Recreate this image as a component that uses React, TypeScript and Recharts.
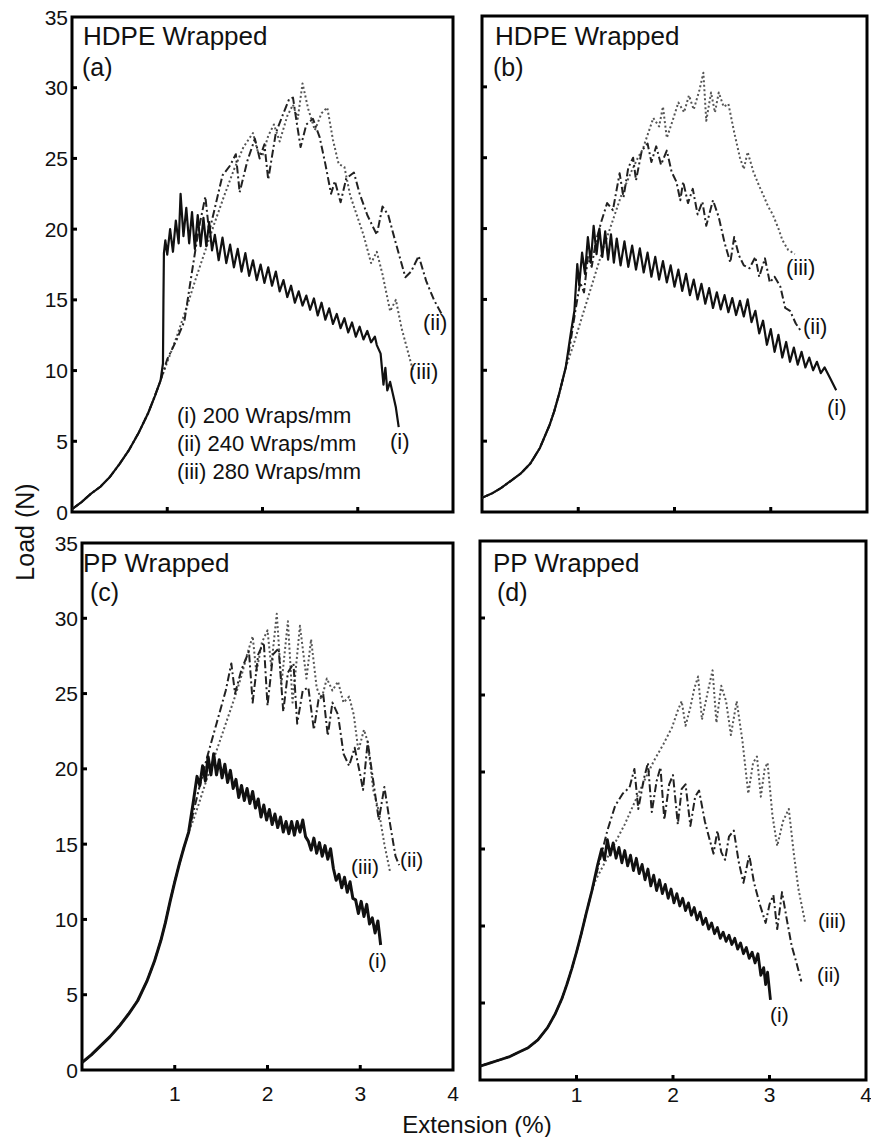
import React from 'react';
import { LineChart, Line, XAxis, YAxis, ReferenceArea } from 'recharts';

type Pt = [number, number];

// ---------- axis ticks ----------
const yTicks = [0, 5, 10, 15, 20, 25, 30, 35];
const xTicks = [1, 2, 3, 4];

// ---------- legend / titles ----------
const legendLines = ['(i) 200 Wraps/mm', '(ii) 240 Wraps/mm', '(iii) 280 Wraps/mm'];
const panelTitles = ['HDPE Wrapped', 'HDPE Wrapped', 'PP Wrapped', 'PP Wrapped'];
const panelLetters = ['(a)', '(b)', '(c)', '(d)'];
const curveTags = ['(i)', '(ii)', '(iii)'];

// ---------- Panel (a) HDPE ----------
const aCommon: Pt[] = [[0, 0.2], [0.1, 0.7], [0.2, 1.3], [0.3, 1.8], [0.4, 2.5], [0.5, 3.4], [0.6, 4.4], [0.7, 5.6], [0.8, 7.0], [0.87, 8.2], [0.93, 9.3]];
const aI: Pt[] = [
  [0.955, 10.5], [0.96, 15], [0.965, 18.3], [0.98, 19.2], [1.0, 18.2], [1.03, 20], [1.06, 18.4], [1.09, 20.6],
  [1.12, 19], [1.14, 22.5], [1.17, 19.5], [1.2, 21.5], [1.23, 19], [1.26, 21.2], [1.29, 18.6], [1.32, 21],
  [1.35, 18.8], [1.38, 20.8], [1.41, 18.8], [1.44, 20.5], [1.47, 18.5], [1.5, 19.6], [1.54, 17.8], [1.58, 19.4],
  [1.62, 17.6], [1.66, 18.9], [1.7, 17.3], [1.74, 18.6], [1.78, 17], [1.82, 18.3], [1.86, 16.7], [1.9, 17.8],
  [1.94, 16.4], [1.98, 17.5], [2.02, 16.2], [2.06, 17.3], [2.1, 16], [2.14, 17], [2.18, 15.6], [2.22, 16.4],
  [2.26, 15.2], [2.3, 16], [2.34, 14.8], [2.38, 15.6], [2.42, 14.6], [2.46, 15.3], [2.5, 14.3], [2.54, 15.1],
  [2.58, 13.9], [2.62, 14.8], [2.66, 13.6], [2.7, 14.4], [2.74, 13.3], [2.78, 14], [2.82, 13], [2.86, 13.7],
  [2.9, 12.7], [2.94, 13.4], [2.98, 12.4], [3.02, 13.1], [3.06, 12.2], [3.1, 12.8], [3.14, 12], [3.18, 12.4],
  [3.2, 11.8], [3.24, 11.2], [3.27, 9.0], [3.29, 10.2], [3.31, 8.6], [3.34, 9.2], [3.37, 8.3], [3.4, 7.4], [3.43, 6.0],
];
const aII: Pt[] = [
  [1.0, 10.8], [1.1, 12.2], [1.18, 13.5], [1.26, 17], [1.33, 20], [1.4, 22.3], [1.44, 19.8], [1.5, 21.5],
  [1.58, 23.8], [1.66, 24.5], [1.72, 25.3], [1.76, 22.6], [1.84, 24.8], [1.92, 26.4], [1.97, 25], [2.02, 26],
  [2.06, 23.5], [2.14, 26.8], [2.22, 28.2], [2.28, 29.2], [2.32, 29.3], [2.36, 27.5], [2.4, 25.8], [2.46, 27.4],
  [2.53, 27.8], [2.6, 26.5], [2.66, 24.6], [2.72, 22.5], [2.76, 23.4], [2.82, 21.9], [2.88, 23.6], [2.96, 24],
  [3.02, 22.5], [3.1, 21], [3.2, 19.6], [3.26, 21.6], [3.32, 21], [3.4, 19], [3.5, 16.6], [3.56, 17],
  [3.64, 18.1], [3.72, 16.3], [3.8, 15], [3.88, 14],
];
const aIII: Pt[] = [
  [1.0, 10.6], [1.1, 12.4], [1.2, 14.4], [1.3, 16.5], [1.4, 18.5], [1.5, 20.5], [1.6, 22.4], [1.7, 24.2],
  [1.8, 25.8], [1.9, 26.8], [1.95, 25.5], [2.0, 25.2], [2.06, 26.6], [2.12, 27.4], [2.18, 26.2], [2.26, 28],
  [2.32, 28.8], [2.37, 27.8], [2.42, 30.3], [2.48, 28.5], [2.55, 27], [2.62, 28.2], [2.68, 28.6], [2.74, 26.3],
  [2.8, 24.6], [2.86, 24.4], [2.92, 22.4], [2.98, 21.2], [3.06, 19.6], [3.14, 17.6], [3.2, 18.4], [3.26, 16.8],
  [3.34, 14.2], [3.4, 15], [3.46, 13], [3.52, 11.5], [3.58, 10],
];

// ---------- Panel (b) HDPE ----------
const bCommon: Pt[] = [[0, 1.0], [0.1, 1.3], [0.2, 1.7], [0.3, 2.2], [0.4, 2.7], [0.5, 3.4], [0.6, 4.5], [0.7, 6.1], [0.75, 7.1], [0.8, 8.3], [0.87, 10.2]];
const bI: Pt[] = [
  [0.92, 12.5], [0.96, 14.2], [0.99, 17.5], [1.01, 16], [1.04, 18.3], [1.07, 16.8], [1.1, 19.4], [1.13, 17.6],
  [1.16, 20.2], [1.19, 18.2], [1.22, 20], [1.25, 18], [1.28, 19.8], [1.31, 17.8], [1.34, 19.6], [1.37, 17.6],
  [1.4, 19.3], [1.44, 17.4], [1.48, 19.1], [1.52, 17.3], [1.56, 18.8], [1.6, 17.1], [1.64, 18.6], [1.68, 16.9],
  [1.72, 18.3], [1.76, 16.6], [1.8, 18], [1.84, 16.4], [1.88, 17.7], [1.92, 16.2], [1.96, 17.4], [2.0, 15.9],
  [2.04, 17.1], [2.08, 15.6], [2.12, 16.8], [2.16, 15.3], [2.2, 16.4], [2.24, 15], [2.28, 16.1], [2.32, 14.7],
  [2.36, 15.8], [2.4, 14.4], [2.44, 15.5], [2.48, 14.3], [2.52, 15.3], [2.56, 14.1], [2.6, 15.1], [2.64, 13.9],
  [2.68, 14.9], [2.72, 13.8], [2.76, 15], [2.8, 13.4], [2.84, 14.2], [2.88, 12.6], [2.92, 13.5], [2.96, 11.8],
  [3.0, 12.9], [3.04, 11.3], [3.08, 12.5], [3.12, 10.9], [3.16, 12], [3.2, 10.6], [3.24, 11.6], [3.28, 10.4],
  [3.32, 11.3], [3.36, 10.2], [3.4, 10.9], [3.44, 10], [3.48, 10.6], [3.52, 9.8], [3.56, 10.2], [3.62, 9.4], [3.68, 8.6],
];
const bII: Pt[] = [
  [0.92, 12], [0.97, 14.2], [1.02, 16.2], [1.06, 15.5], [1.1, 18], [1.14, 17.3], [1.18, 19], [1.24, 20.5],
  [1.3, 21.8], [1.36, 21.3], [1.43, 23.9], [1.47, 22.2], [1.52, 24.3], [1.57, 25], [1.6, 23.4], [1.66, 25.5],
  [1.72, 26], [1.76, 24.7], [1.81, 25.8], [1.86, 24.5], [1.92, 25.5], [1.97, 24], [2.02, 23.3], [2.06, 22],
  [2.09, 23.3], [2.14, 21.8], [2.19, 22.8], [2.24, 21], [2.29, 21.9], [2.33, 20.2], [2.4, 22], [2.46, 20.8],
  [2.52, 19], [2.58, 17.6], [2.62, 19.4], [2.67, 18.1], [2.72, 17.4], [2.78, 17.2], [2.84, 18], [2.88, 16.6],
  [2.94, 17.9], [2.99, 16.2], [3.04, 16.6], [3.1, 15.9], [3.15, 14.4], [3.2, 14.2], [3.26, 13.3], [3.31, 12.8],
];
const bIII: Pt[] = [
  [0.95, 11.8], [1.05, 14], [1.15, 16.2], [1.25, 18.4], [1.35, 20.4], [1.45, 22.4], [1.55, 24], [1.62, 25],
  [1.67, 25.6], [1.72, 26.6], [1.78, 27.8], [1.84, 27.2], [1.88, 28.6], [1.92, 26.4], [1.98, 27.6], [2.04, 28.9],
  [2.1, 28.2], [2.15, 29.4], [2.2, 28.4], [2.26, 29.8], [2.3, 31], [2.33, 27.6], [2.38, 29.6], [2.42, 28.2],
  [2.46, 29.6], [2.51, 28.6], [2.56, 28.8], [2.62, 26.8], [2.68, 25], [2.72, 24.2], [2.76, 25.4], [2.82, 24],
  [2.88, 23], [2.92, 22.4], [2.97, 21.6], [3.02, 21], [3.08, 20], [3.12, 19.2], [3.18, 18.5], [3.25, 18.2],
];

// ---------- Panel (c) PP ----------
const cCommon: Pt[] = [
  [0, 0.5], [0.1, 1.0], [0.2, 1.6], [0.3, 2.2], [0.4, 2.9], [0.5, 3.7], [0.6, 4.6], [0.7, 5.9],
  [0.78, 7.2], [0.85, 8.6], [0.9, 9.8], [0.95, 11.2], [1.0, 12.5], [1.05, 13.7], [1.1, 14.8], [1.15, 15.8],
];
const cI: Pt[] = [
  [1.2, 17.8], [1.24, 19.5], [1.27, 18.9], [1.3, 20.2], [1.33, 19.2], [1.36, 20.8], [1.39, 19.6], [1.42, 21],
  [1.45, 19.6], [1.48, 20.6], [1.51, 19.4], [1.54, 20.3], [1.57, 19.1], [1.6, 19.9], [1.63, 18.7], [1.66, 19.3],
  [1.69, 18.1], [1.72, 18.9], [1.75, 17.9], [1.78, 18.7], [1.81, 17.7], [1.84, 18.5], [1.87, 17.4], [1.9, 18],
  [1.93, 16.8], [1.96, 17.6], [1.99, 16.6], [2.02, 17.3], [2.05, 16.3], [2.08, 17], [2.11, 16.1], [2.14, 16.8],
  [2.17, 15.8], [2.2, 16.5], [2.23, 15.7], [2.26, 16.5], [2.29, 15.6], [2.32, 16.5], [2.35, 15.8], [2.38, 16.6],
  [2.41, 15.5], [2.44, 15.2], [2.47, 14.6], [2.5, 15.4], [2.53, 14.4], [2.56, 15.1], [2.59, 14.2], [2.62, 14.9],
  [2.65, 14], [2.68, 14.7], [2.71, 13.4], [2.74, 12.6], [2.77, 13], [2.8, 12.1], [2.83, 12.8], [2.86, 11.8],
  [2.89, 12.5], [2.92, 11.4], [2.95, 11.3], [2.98, 10.4], [3.01, 11.2], [3.04, 10.2], [3.07, 11], [3.1, 9.7],
  [3.13, 10.1], [3.16, 9.1], [3.19, 9.9], [3.22, 8.3],
];
const cII: Pt[] = [
  [1.25, 18.4], [1.35, 20.8], [1.45, 23], [1.55, 25.2], [1.61, 27], [1.65, 25], [1.72, 26.6], [1.8, 27.8],
  [1.84, 24.4], [1.9, 27.6], [1.96, 28.4], [2.0, 24.2], [2.06, 27.6], [2.12, 28], [2.17, 23.8], [2.22, 26.4],
  [2.28, 27], [2.32, 23], [2.38, 25.2], [2.44, 25.4], [2.5, 22.6], [2.55, 24.6], [2.6, 25], [2.65, 22.2],
  [2.7, 24.4], [2.76, 23.6], [2.82, 21], [2.88, 20.2], [2.94, 21.4], [3.0, 19.6], [3.03, 18.6], [3.08, 21.8],
  [3.14, 19.2], [3.2, 16.6], [3.26, 18.8], [3.32, 16.4], [3.38, 14.2], [3.42, 13.6],
];
const cIII: Pt[] = [
  [1.2, 16.6], [1.25, 17.5], [1.35, 19.4], [1.45, 21.2], [1.55, 23], [1.65, 24.8], [1.72, 26.2], [1.78, 27.6],
  [1.84, 28.8], [1.88, 26.4], [1.94, 28.4], [2.0, 29.2], [2.04, 26.8], [2.1, 30.3], [2.15, 25.6], [2.22, 29.8],
  [2.27, 24.4], [2.35, 29.5], [2.42, 26], [2.47, 28.6], [2.53, 25.4], [2.58, 24.6], [2.64, 26], [2.7, 25.2],
  [2.76, 25.8], [2.82, 24.4], [2.88, 24.8], [2.93, 23.6], [2.98, 21.2], [3.04, 22.6], [3.08, 21.8], [3.14, 18.6],
  [3.2, 17.2], [3.26, 15], [3.32, 13.2],
];

// ---------- Panel (d) PP ----------
const dCommon: Pt[] = [
  [0, 0.9], [0.1, 1.1], [0.2, 1.3], [0.3, 1.5], [0.4, 1.8], [0.5, 2.1], [0.6, 2.6], [0.7, 3.4],
  [0.78, 4.3], [0.85, 5.3], [0.9, 6.2], [0.95, 7.2], [1.0, 8.3], [1.05, 9.5], [1.1, 10.8], [1.16, 12.3],
];
const dI: Pt[] = [
  [1.22, 14], [1.26, 15], [1.29, 14.3], [1.32, 15.6], [1.35, 14.6], [1.38, 15.4], [1.41, 14.4], [1.44, 15.1],
  [1.47, 14.1], [1.5, 14.9], [1.53, 13.9], [1.56, 14.6], [1.59, 13.6], [1.62, 14.4], [1.65, 13.4], [1.68, 14],
  [1.71, 13], [1.74, 13.7], [1.77, 12.6], [1.8, 13.3], [1.83, 12.3], [1.86, 13], [1.89, 12.1], [1.92, 12.7],
  [1.95, 11.8], [1.98, 12.4], [2.01, 11.5], [2.04, 12.1], [2.07, 11.3], [2.1, 11.8], [2.13, 11], [2.16, 11.5],
  [2.19, 10.7], [2.22, 11.2], [2.25, 10.4], [2.28, 10.9], [2.31, 10.1], [2.34, 10.5], [2.37, 9.8], [2.4, 10.2],
  [2.43, 9.5], [2.46, 9.9], [2.49, 9.2], [2.52, 9.6], [2.55, 9], [2.58, 9.4], [2.61, 8.8], [2.64, 9.2],
  [2.67, 8.5], [2.7, 8.9], [2.73, 8.2], [2.76, 8.6], [2.79, 7.9], [2.82, 8.3], [2.85, 7.6], [2.88, 8.2],
  [2.91, 6.8], [2.94, 7.3], [2.96, 6.2], [2.98, 7], [3.01, 5.2],
];
const dII: Pt[] = [
  [1.24, 14.2], [1.32, 16.2], [1.4, 17.8], [1.48, 18.6], [1.55, 19], [1.6, 20.2], [1.64, 17.6], [1.7, 19.6],
  [1.74, 20.6], [1.78, 17.4], [1.83, 19.4], [1.87, 20.3], [1.91, 16.9], [1.96, 19.2], [2.0, 19.8], [2.05, 16.6],
  [2.09, 18.9], [2.13, 19.2], [2.18, 16.5], [2.23, 18.4], [2.27, 18.8], [2.33, 16.8], [2.38, 15.6], [2.42, 14.7],
  [2.46, 16.2], [2.5, 14.8], [2.54, 14.3], [2.58, 15.8], [2.63, 16.2], [2.68, 14.2], [2.73, 12.8], [2.79, 14.6],
  [2.84, 12.8], [2.9, 11.4], [2.96, 10.2], [3.0, 11.4], [3.04, 12], [3.08, 9.8], [3.13, 12.2], [3.18, 10.4],
  [3.23, 8.7], [3.28, 7.6], [3.33, 6.4],
];
const dIII: Pt[] = [
  [1.2, 13], [1.3, 14.2], [1.4, 15.4], [1.5, 16.6], [1.6, 18], [1.7, 19.4], [1.8, 20.7], [1.9, 21.8],
  [1.99, 22.9], [2.05, 24], [2.09, 24.6], [2.13, 23], [2.18, 24.2], [2.22, 25.4], [2.26, 26.2], [2.3, 23.4],
  [2.36, 25.2], [2.41, 26.6], [2.45, 23.2], [2.5, 25.6], [2.55, 24.6], [2.6, 22.4], [2.66, 24.6], [2.72, 22],
  [2.78, 18.6], [2.83, 20.6], [2.87, 21], [2.91, 18.4], [2.95, 20.2], [2.98, 20.6], [3.03, 17.2], [3.08, 15.2],
  [3.14, 16.8], [3.2, 17.6], [3.25, 14.8], [3.3, 12.4], [3.37, 10.2],
];

const FONT = '"Liberation Sans", Arial, Helvetica, sans-serif';
const INK = '#111';
const TICK_OFF = 8; // default tickSize (6) + tickMargin (2)

const rows = (common: Pt[], tail: Pt[]) => [...common, ...tail].map(([x, y]) => ({ x, y }));

type Kind = 'i' | 'ii' | 'iii';
const lineStyle: Record<Kind, { stroke: string; width: number; dash?: string }> = {
  iii: { stroke: '#555', width: 2, dash: '2 2.5' },
  ii: { stroke: '#222', width: 2, dash: '8 3 2 3' },
  i: { stroke: '#111', width: 2 },
};

type PanelCfg = {
  left: number; top: number; width: number; height: number;
  marginTop: number; marginRight: number; yAxisW: number; xAxisH: number;
  common: Pt[]; i: Pt[]; ii: Pt[]; iii: Pt[];
  yLabels: boolean; xLabels: boolean; xLabelDy: number; iWidth: number;
};

const YTick = (props: any) => {
  const { x, y, payload, showLabel } = props;
  const v = payload.value;
  const ax = x + TICK_OFF;
  return (
    <g>
      {v > 0 && v < 35 && <line x1={ax} x2={ax + 5} y1={y} y2={y} stroke="#000" strokeWidth={3} />}
      {showLabel && (
        <text x={ax - 4} y={y} dy="0.36em" textAnchor="end" fontSize={21} fontFamily={FONT} fill={INK}>{v}</text>
      )}
    </g>
  );
};

const XTick = (props: any) => {
  const { x, y, payload, showLabel, dy } = props;
  const v = payload.value;
  const ay = y - TICK_OFF;
  return (
    <g>
      {v > 0 && v < 4 && <line x1={x} x2={x} y1={ay} y2={ay - 5} stroke="#000" strokeWidth={3} />}
      {showLabel && (
        <text x={x} y={ay + dy} textAnchor="middle" fontSize={21} fontFamily={FONT} fill={INK}>{v}</text>
      )}
    </g>
  );
};

const Panel = ({ cfg }: { cfg: PanelCfg }) => {
  const series: [Kind, Pt[]][] = [['iii', cfg.iii], ['ii', cfg.ii], ['i', cfg.i]];
  return (
    <div style={{ position: 'absolute', left: cfg.left, top: cfg.top }}>
      <LineChart
        width={cfg.width}
        height={cfg.height}
        margin={{ top: cfg.marginTop, right: cfg.marginRight, bottom: 0, left: 0 }}
        style={{ overflow: 'visible' }}
      >
        <XAxis
          type="number" dataKey="x" domain={[0, 4]} ticks={xTicks} interval={0}
          height={cfg.xAxisH} axisLine={false} tickLine={false} allowDataOverflow
          tick={(p: any) => <XTick {...p} showLabel={cfg.xLabels} dy={cfg.xLabelDy} />}
        />
        <YAxis
          type="number" domain={[0, 35]} ticks={yTicks} interval={0}
          width={cfg.yAxisW} axisLine={false} tickLine={false} allowDataOverflow
          tick={(p: any) => <YTick {...p} showLabel={cfg.yLabels} />}
        />
        {series.map(([k, pts]) => (
          <Line
            key={k}
            data={rows(cfg.common, pts)}
            dataKey="y"
            type="linear"
            dot={false}
            activeDot={false}
            isAnimationActive={false}
            stroke={lineStyle[k].stroke}
            strokeWidth={k === 'i' ? cfg.iWidth : lineStyle[k].width}
            strokeDasharray={lineStyle[k].dash}
            strokeLinejoin="round"
          />
        ))}
        <ReferenceArea x1={0} x2={4} y1={0} y2={35} fill="none" stroke="#000" strokeWidth={3} ifOverflow="visible" />
      </LineChart>
    </div>
  );
};

const panels: PanelCfg[] = [
  { left: 0, top: 0, width: 460, height: 530, marginTop: 17, marginRight: 7, yAxisW: 72, xAxisH: 18,
    common: aCommon, i: aI, ii: aII, iii: aIII, yLabels: true, xLabels: false, xLabelDy: 24, iWidth: 2.2 },
  { left: 470, top: 0, width: 400, height: 530, marginTop: 16, marginRight: 3, yAxisW: 12, xAxisH: 18,
    common: bCommon, i: bI, ii: bII, iii: bIII, yLabels: false, xLabels: false, xLabelDy: 24, iWidth: 2.2 },
  { left: 0, top: 530, width: 460, height: 580, marginTop: 13, marginRight: 7, yAxisW: 82, xAxisH: 40,
    common: cCommon, i: cI, ii: cII, iii: cIII, yLabels: true, xLabels: true, xLabelDy: 31, iWidth: 3 },
  { left: 470, top: 530, width: 410, height: 580, marginTop: 11, marginRight: 14, yAxisW: 10, xAxisH: 30,
    common: dCommon, i: dI, ii: dII, iii: dIII, yLabels: false, xLabels: true, xLabelDy: 22, iWidth: 2.8 },
];

const titlePos = [[83, 45, 82, 76], [495, 45, 493, 76], [83, 572, 90, 601], [493, 572, 497, 601]];
// curve tag positions: [panel][tag] -> [left x, baseline y]
const tagPos = [
  [[390, 449], [423, 330], [409, 379]],
  [[827, 415], [803, 334], [786, 275]],
  [[368, 968], [400, 867], [351, 874]],
  [[770, 1022], [817, 982], [818, 928]],
];
const legendPos = [177, 423, 451, 479];

export default function App() {
  return (
    <div style={{ position: 'fixed', left: 0, top: 0, width: 871, height: 1137, overflow: 'hidden', background: '#fff' }}>
      {panels.map((p, idx) => <Panel key={idx} cfg={p} />)}
      <svg width={871} height={1137} style={{ position: 'absolute', left: 0, top: 0, pointerEvents: 'none' }}>
        <g fontFamily={FONT} fill={INK}>
          {titlePos.map(([tx, ty, lx, ly], k) => (
            <g key={k}>
              <text x={tx} y={ty} fontSize={26}>{panelTitles[k]}</text>
              <text x={lx} y={ly} fontSize={25}>{panelLetters[k]}</text>
            </g>
          ))}
          {legendLines.map((s, k) => (
            <text key={s} x={legendPos[0]} y={legendPos[k + 1]} fontSize={22}>{s}</text>
          ))}
          {tagPos.map((row, pi) => row.map(([x, y], ti) => (
            <text key={`${pi}-${ti}`} x={x} y={y} fontSize={pi >= 2 ? 21 : 22}>{curveTags[ti]}</text>
          )))}
          <text x={477} y={1133} fontSize={24} textAnchor="middle">Extension (%)</text>
          <text transform="translate(34, 532) rotate(-90)" fontSize={25} textAnchor="middle">Load (N)</text>
        </g>
      </svg>
    </div>
  );
}
